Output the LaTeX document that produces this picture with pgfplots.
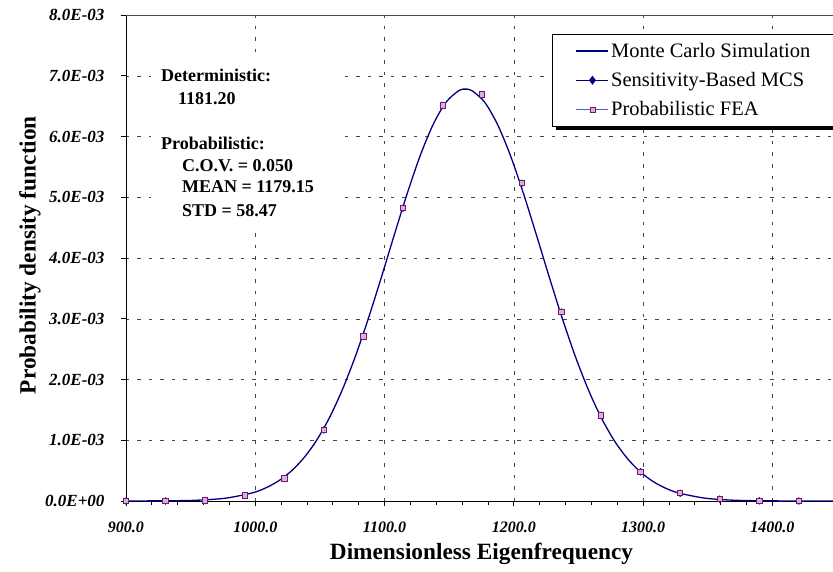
\documentclass[border=0pt]{standalone}
\usepackage{fontspec}
\setmainfont{Liberation Serif}
\usepackage{pgfplots}
\usepackage{pgfplotstable}
\pgfplotsset{compat=1.18}
\definecolor{navy}{RGB}{0,0,128}
\definecolor{feaLine}{RGB}{90,90,190}
\definecolor{feaEdge}{RGB}{120,20,120}
\definecolor{feaFill}{RGB}{210,180,215}
\definecolor{gridc}{RGB}{70,70,70}

% marker values (PDF in units of 1E-03)
\pgfplotstableread{
x y
900.0 0.000
930.6 0.001
961.2 0.010
991.9 0.090
1022.5 0.370
1053.1 1.170
1083.7 2.710
1114.3 4.820
1145.0 6.510
1175.6 6.690
1206.2 5.230
1236.8 3.110
1267.4 1.410
1298.1 0.480
1328.7 0.127
1359.3 0.030
1389.9 0.004
1420.5 0.000
}\markdata

% Monte Carlo simulation curve (units of 1E-03)
\pgfplotstableread{
x y
900.0 0.0003
937.5 0.0045
957.5 0.0155
977.5 0.048
997.5 0.132
1007.5 0.210
1017.5 0.324
1027.5 0.486
1037.5 0.708
1047.5 1.001
1057.5 1.377
1067.5 1.839
1077.5 2.385
1087.5 3.006
1097.5 3.680
1107.5 4.378
1117.5 5.059
1127.5 5.680
1137.5 6.194
1147.5 6.563
1157.5 6.756
1162.5 6.780
1167.5 6.756
1177.5 6.563
1187.5 6.194
1197.5 5.680
1207.5 5.059
1217.5 4.378
1227.5 3.680
1237.5 3.006
1247.5 2.385
1257.5 1.839
1267.5 1.377
1277.5 1.001
1287.5 0.708
1297.5 0.486
1307.5 0.324
1317.5 0.210
1327.5 0.132
1347.5 0.048
1367.5 0.0155
1387.5 0.0045
1417.5 0.0006
1450.0 0.0000
}\curvedata

\begin{document}
\begin{tikzpicture}
\begin{axis}[
  scale only axis, width=711pt, height=486pt,
  xmin=900, xmax=1450, ymin=0, ymax=8,
  axis x line*=bottom, axis y line*=left,
  axis line style={black, line width=0.9pt, -},
  xtick={900,1000,1100,1200,1300,1400},
  xticklabels={900.0,1000.0,1100.0,1200.0,1300.0,1400.0},
  minor x tick num=4,
  ytick={0,1,2,3,4,5,6,7,8},
  yticklabels={0.0E+00,1.0E-03,2.0E-03,3.0E-03,4.0E-03,5.0E-03,6.0E-03,7.0E-03,8.0E-03},
  tick align=outside,
  major tick length=5pt, minor tick length=4pt,
  tick style={black, line width=0.8pt},
  xmajorgrids, ymajorgrids,
  major grid style={gridc, line width=0.5pt, dash pattern=on 3.5pt off 8pt},
  xticklabel style={font=\fontsize{16}{18}\selectfont\bfseries\itshape, yshift=-12pt},
  yticklabel style={font=\fontsize{17}{19}\selectfont\bfseries\itshape, xshift=-13pt},
  xlabel={Dimensionless Eigenfrequency},
  ylabel={Probability density function},
  label style={font=\fontsize{23.3}{27}\selectfont\bfseries},
  xlabel style={at={(axis description cs:0.5,-0.108)}, anchor=center},
  ylabel style={at={(axis description cs:-0.135,0.506)}, anchor=center},
  legend style={name=leg, at={(axis description cs:0.600,0.961)}, anchor=north west,
    draw=none, fill=white,
    font=\fontsize{20.5}{23}\selectfont,
    inner xsep=23pt, inner ysep=7pt, row sep=9.5pt,
    cells={anchor=west}},
  legend image code/.code={\draw[mark repeat=2,mark phase=2,#1] plot coordinates {(0pt,0pt) (16pt,0pt) (32pt,0pt)};},
]
\draw[gray!60!black, line width=0.8pt] (rel axis cs:0,1) -- (rel axis cs:1,1);

\addplot[navy, line width=1.3pt, smooth, forget plot] table[x=x,y=y] {\curvedata};
\addplot[only marks, mark=diamond*, mark size=3.5pt, draw=navy, fill=navy, forget plot] table[x=x,y=y] {\markdata};
\addplot[only marks, mark=square*, mark size=2.7pt, mark options={draw=feaEdge, fill=feaFill, line width=1.0pt}, forget plot] table[x=x,y=y] {\markdata};

\addlegendimage{navy, line width=1.3pt}
\addlegendentry{Monte Carlo Simulation}
\addlegendimage{navy, line width=1.3pt, mark=diamond*, mark size=3.5pt, mark options={draw=navy, fill=navy}}
\addlegendentry{Sensitivity-Based MCS}
\addlegendimage{feaLine, line width=1.3pt, mark=square*, mark size=2.5pt, mark options={draw=feaEdge, fill=feaFill, line width=0.8pt}}
\addlegendentry{Probabilistic FEA}

\fill[white] (axis cs:919,7.32) rectangle (axis cs:1065,4.45);
\node[anchor=base west, inner sep=0, font=\fontsize{18}{21}\selectfont\bfseries] at (axis cs:927.1,6.91) {Deterministic:};
\node[anchor=base west, inner sep=0, font=\fontsize{18}{21}\selectfont\bfseries] at (axis cs:940.2,6.53) {1181.20};
\node[anchor=base west, inner sep=0, font=\fontsize{18}{21}\selectfont\bfseries] at (axis cs:927.1,5.79) {Probabilistic:};
\node[anchor=base west, inner sep=0, font=\fontsize{18}{21}\selectfont\bfseries] at (axis cs:943.3,5.43) {C.O.V. = 0.050};
\node[anchor=base west, inner sep=0, font=\fontsize{18}{21}\selectfont\bfseries] at (axis cs:943.3,5.07) {MEAN = 1179.15};
\node[anchor=base west, inner sep=0, font=\fontsize{18}{21}\selectfont\bfseries] at (axis cs:943.3,4.69) {STD = 58.47};
\end{axis}
\fill[black] ([xshift=3pt]leg.south west) rectangle ([xshift=3.5pt,yshift=-3.5pt]leg.south east);
\fill[black] ([yshift=-3pt]leg.north east) rectangle ([xshift=3.5pt,yshift=-3.5pt]leg.south east);
\draw[black, line width=0.8pt] (leg.south west) rectangle (leg.north east);
\pgfresetboundingbox
\path ([xshift=-126pt,yshift=-70pt]current axis.south west) rectangle ([xshift=-4pt,yshift=15pt]current axis.north east);
\end{tikzpicture}
\end{document}
